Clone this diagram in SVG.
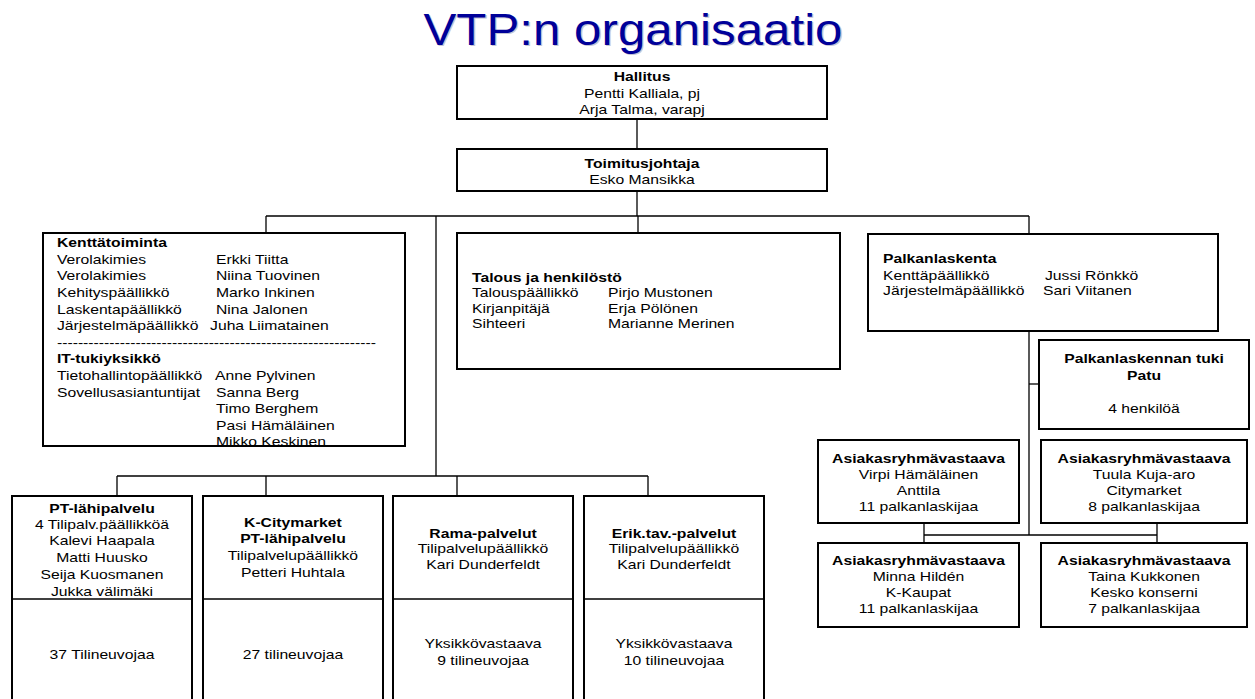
<svg xmlns="http://www.w3.org/2000/svg" width="1255" height="699" viewBox="0 0 1255 699">
<style>
.t{font-family:"Liberation Sans",Arial,Helvetica,sans-serif;font-size:13px;fill:#000}
.b{font-weight:bold}
.c{text-anchor:middle}
.box{fill:#fff;stroke:#000;stroke-width:2}
.ln{stroke:#000;stroke-width:1.3;fill:none}
.title{font-family:"Liberation Sans",Arial,Helvetica,sans-serif;font-size:44px;text-anchor:middle}
</style>
<rect x="0" y="0" width="1255" height="699" fill="#fff"/>
<g id="title" transform="scale(1.12,1)">
<text class="title" x="566.4" y="46.5" fill="#c4c4d4">VTP:n organisaatio</text>
<text class="title" x="565.2" y="45" fill="#000099">VTP:n organisaatio</text>
</g>
<g id="connectors">
<path class="ln" d="M637 119V149"/>
<path class="ln" d="M637 191V216"/>
<path class="ln" d="M266 216H1029"/>
<path class="ln" d="M266 216V233"/>
<path class="ln" d="M638 216V233"/>
<path class="ln" d="M1029 216V234"/>
<path class="ln" d="M436 216V476"/>
<path class="ln" d="M117 476H648"/>
<path class="ln" d="M117 476V496M266 476V496M457 476V496M648 476V496"/>
<path class="ln" d="M1029 331V535"/>
<path class="ln" d="M1029 384H1039"/>
<path class="ln" d="M924 535H1157"/>
<path class="ln" d="M924 523V543M1157 523V543"/>
</g>
<g id="hallitus">
<rect class="box" x="457" y="66" width="370" height="53"/>
<g transform="scale(1.21,1)">
<text class="t b c" x="530.6" y="81">Hallitus</text>
<text class="t c" x="530.6" y="98">Pentti Kalliala, pj</text>
<text class="t c" x="530.6" y="114">Arja Talma, varapj</text>
</g>
</g>
<g id="toimitusjohtaja">
<rect class="box" x="457" y="149" width="370" height="42"/>
<g transform="scale(1.21,1)">
<text class="t b c" x="530.6" y="168">Toimitusjohtaja</text>
<text class="t c" x="530.6" y="184">Esko Mansikka</text>
</g>
</g>
<g id="kenttatoiminta">
<rect class="box" x="43" y="233" width="362" height="213"/>
<g transform="scale(1.21,1)">
<text class="t b" x="47.1" y="247">Kenttätoiminta</text>
<text class="t" x="47.1" y="263.7">Verolakimies</text>
<text class="t" x="178.5" y="263.7">Erkki Tiitta</text>
<text class="t" x="47.1" y="280.3">Verolakimies</text>
<text class="t" x="178.5" y="280.3">Niina Tuovinen</text>
<text class="t" x="47.1" y="297">Kehityspäällikkö</text>
<text class="t" x="178.5" y="297">Marko Inkinen</text>
<text class="t" x="47.1" y="313.6">Laskentapäällikkö</text>
<text class="t" x="178.5" y="313.6">Nina Jalonen</text>
<text class="t" x="47.1" y="330.2">Järjestelmäpäällikkö</text>
<text class="t" x="173.6" y="330.2">Juha Liimatainen</text>
<text class="t" x="47.1" y="346.8">-------------------------------------------------------------</text>
<text class="t b" x="47.1" y="363.4">IT-tukiyksikkö</text>
<text class="t" x="47.1" y="380">Tietohallintopäällikkö</text>
<text class="t" x="177.7" y="380">Anne Pylvinen</text>
<text class="t" x="47.1" y="396.6">Sovellusasiantuntijat</text>
<text class="t" x="178.5" y="396.6">Sanna Berg</text>
<text class="t" x="178.5" y="413.2">Timo Berghem</text>
<text class="t" x="178.5" y="429.8">Pasi Hämäläinen</text>
<text class="t" x="178.5" y="446.4">Mikko Keskinen</text>
</g>
</g>
<g id="talous">
<rect class="box" x="457" y="233" width="383" height="136"/>
<g transform="scale(1.21,1)">
<text class="t b" x="390.1" y="282">Talous ja henkilöstö</text>
<text class="t" x="390.1" y="297.5">Talouspäällikkö</text>
<text class="t" x="502.5" y="297.5">Pirjo Mustonen</text>
<text class="t" x="390.1" y="313">Kirjanpitäjä</text>
<text class="t" x="502.5" y="313">Erja Pölönen</text>
<text class="t" x="390.1" y="328">Sihteeri</text>
<text class="t" x="502.5" y="328">Marianne Merinen</text>
</g>
</g>
<g id="palkanlaskenta">
<rect class="box" x="868" y="234" width="350" height="97"/>
<g transform="scale(1.21,1)">
<text class="t b" x="729.8" y="263">Palkanlaskenta</text>
<text class="t" x="729.8" y="280">Kenttäpäällikkö</text>
<text class="t" x="863.6" y="280">Jussi Rönkkö</text>
<text class="t" x="729.8" y="295">Järjestelmäpäällikkö</text>
<text class="t" x="862" y="295">Sari Viitanen</text>
</g>
</g>
<g id="patu">
<rect class="box" x="1039" y="340" width="210" height="89"/>
<g transform="scale(1.21,1)">
<text class="t b c" x="945.5" y="363">Palkanlaskennan tuki</text>
<text class="t b c" x="945.5" y="380">Patu</text>
<text class="t c" x="945.5" y="413">4 henkilöä</text>
</g>
</g>
<g id="asiakas-virpi">
<rect class="box" x="818" y="440" width="201" height="83"/>
<g transform="scale(1.21,1)">
<text class="t b c" x="759.1" y="463">Asiakasryhmävastaava</text>
<text class="t c" x="759.1" y="479">Virpi Hämäläinen</text>
<text class="t c" x="759.1" y="495">Anttila</text>
<text class="t c" x="759.1" y="511">11 palkanlaskijaa</text>
</g>
</g>
<g id="asiakas-tuula">
<rect class="box" x="1041" y="440" width="206" height="83"/>
<g transform="scale(1.21,1)">
<text class="t b c" x="945.5" y="463">Asiakasryhmävastaava</text>
<text class="t c" x="945.5" y="479">Tuula Kuja-aro</text>
<text class="t c" x="945.5" y="495">Citymarket</text>
<text class="t c" x="945.5" y="511">8 palkanlaskijaa</text>
</g>
</g>
<g id="asiakas-minna">
<rect class="box" x="818" y="543" width="201" height="84"/>
<g transform="scale(1.21,1)">
<text class="t b c" x="759.1" y="565">Asiakasryhmävastaava</text>
<text class="t c" x="759.1" y="581">Minna Hildén</text>
<text class="t c" x="759.1" y="597">K-Kaupat</text>
<text class="t c" x="759.1" y="613">11 palkanlaskijaa</text>
</g>
</g>
<g id="asiakas-taina">
<rect class="box" x="1041" y="543" width="206" height="84"/>
<g transform="scale(1.21,1)">
<text class="t b c" x="945.5" y="565">Asiakasryhmävastaava</text>
<text class="t c" x="945.5" y="581">Taina Kukkonen</text>
<text class="t c" x="945.5" y="597">Kesko konserni</text>
<text class="t c" x="945.5" y="613">7 palkanlaskijaa</text>
</g>
</g>
<g id="pt-lahipalvelu">
<rect class="box" x="12" y="496" width="180" height="210"/>
<path class="ln" d="M12 599H192" stroke-width="2"/>
<g transform="scale(1.21,1)">
<text class="t b c" x="84.3" y="513">PT-lähipalvelu</text>
<text class="t c" x="84.3" y="529">4 Tilipalv.päällikköä</text>
<text class="t c" x="84.3" y="545.5">Kalevi Haapala</text>
<text class="t c" x="84.3" y="562">Matti Huusko</text>
<text class="t c" x="84.3" y="579">Seija Kuosmanen</text>
<text class="t c" x="84.3" y="596">Jukka välimäki</text>
<text class="t c" x="84.3" y="659">37 Tilineuvojaa</text>
</g>
</g>
<g id="k-citymarket">
<rect class="box" x="203" y="496" width="180" height="210"/>
<path class="ln" d="M203 599H383" stroke-width="2"/>
<g transform="scale(1.21,1)">
<text class="t b c" x="242.1" y="527">K-Citymarket</text>
<text class="t b c" x="242.1" y="543.5">PT-lähipalvelu</text>
<text class="t c" x="242.1" y="560">Tilipalvelupäällikkö</text>
<text class="t c" x="242.1" y="577">Petteri Huhtala</text>
<text class="t c" x="242.1" y="659">27 tilineuvojaa</text>
</g>
</g>
<g id="rama-palvelut">
<rect class="box" x="393" y="496" width="180" height="210"/>
<path class="ln" d="M393 599H573" stroke-width="2"/>
<g transform="scale(1.21,1)">
<text class="t b c" x="399.2" y="538">Rama-palvelut</text>
<text class="t c" x="399.2" y="553.5">Tilipalvelupäällikkö</text>
<text class="t c" x="399.2" y="569.5">Kari Dunderfeldt</text>
<text class="t c" x="399.2" y="648">Yksikkövastaava</text>
<text class="t c" x="399.2" y="665">9 tilineuvojaa</text>
</g>
</g>
<g id="erik-palvelut">
<rect class="box" x="584" y="496" width="180" height="210"/>
<path class="ln" d="M584 599H764" stroke-width="2"/>
<g transform="scale(1.21,1)">
<text class="t b c" x="557" y="538">Erik.tav.-palvelut</text>
<text class="t c" x="557" y="553.5">Tilipalvelupäällikkö</text>
<text class="t c" x="557" y="569.5">Kari Dunderfeldt</text>
<text class="t c" x="557" y="648">Yksikkövastaava</text>
<text class="t c" x="557" y="665">10 tilineuvojaa</text>
</g>
</g>
</svg>
